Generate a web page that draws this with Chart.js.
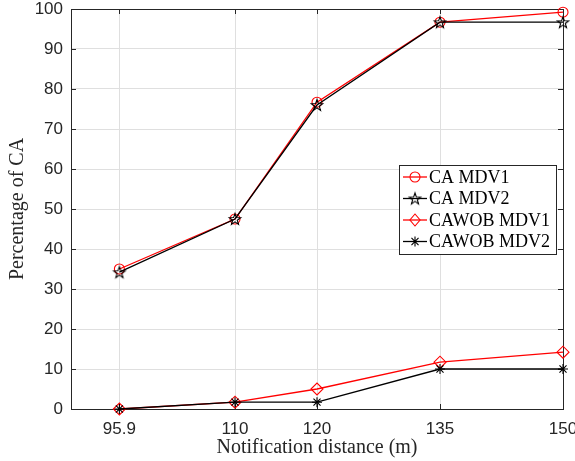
<!DOCTYPE html>
<html><head><meta charset="utf-8">
<script src="https://cdn.jsdelivr.net/npm/chart.js@4"></script>
<style>html,body{margin:0;padding:0;background:#fff}#wrap{width:575px;height:461px;position:relative}</style>
</head><body><div id="wrap"><canvas id="c" width="575" height="461"></canvas></div>
<script>
const distances = [95.9, 110, 120, 135, 150];
const caMdv1 = [35, 47.5, 76.7, 96.7, 99.2];
const caMdv2 = [34.2, 47.5, 76, 96.7, 96.7];
const cawobMdv1 = [0, 1.7, 5, 11.7, 14.2];
const cawobMdv2 = [0, 1.7, 1.7, 10, 10];
const yTickValues = [0, 10, 20, 30, 40, 50, 60, 70, 80, 90, 100];
const seriesNames = ['CA MDV1', 'CA MDV2', 'CAWOB MDV1', 'CAWOB MDV2'];
const xTitle = 'Notification distance (m)';
const yTitle = 'Percentage of CA';

const RED = '#ff0000', BLACK = '#000000', AXIS = '#262626';

function starPath(ctx, cx, cy, r) {
  const ri = r * 0.4;
  ctx.beginPath();
  for (let i = 0; i < 10; i++) {
    const rr = i % 2 === 0 ? r : ri;
    const a = -Math.PI / 2 + i * Math.PI / 5;
    const px = cx + rr * Math.cos(a), py = cy + rr * Math.sin(a);
    if (i === 0) ctx.moveTo(px, py); else ctx.lineTo(px, py);
  }
  ctx.closePath();
}
function makeStar(r) {
  const s = Math.ceil(2 * r + 4);
  const c = document.createElement('canvas');
  c.width = s; c.height = s;
  const ctx = c.getContext('2d');
  ctx.strokeStyle = BLACK; ctx.lineWidth = 1.1;
  starPath(ctx, s / 2, s / 2 + 0.5, r);
  ctx.stroke();
  return c;
}
const starImg = makeStar(6);

function pts(arr) { return distances.map((d, i) => ({ x: d, y: arr[i] })); }

const styles = [
  { color: RED, pointStyle: 'circle', radius: 5 },
  { color: BLACK, pointStyle: starImg, radius: 6 },
  { color: RED, pointStyle: 'rectRot', radius: 6 },
  { color: BLACK, pointStyle: 'star', radius: 5 }
];
const seriesData = [caMdv1, caMdv2, cawobMdv1, cawobMdv2];

const datasets = seriesData.map((arr, i) => ({
  label: seriesNames[i],
  data: pts(arr),
  borderColor: styles[i].color,
  backgroundColor: 'rgba(0,0,0,0)',
  pointBorderColor: styles[i].color,
  pointBackgroundColor: 'rgba(0,0,0,0)',
  pointStyle: styles[i].pointStyle,
  pointRadius: styles[i].radius,
  pointBorderWidth: 1.1,
  borderWidth: 1.3,
  tension: 0,
  clip: false
})).reverse();

function drawMarker(ctx, st, x, y) {
  ctx.save();
  ctx.strokeStyle = st.color; ctx.lineWidth = 1.1;
  if (st.pointStyle === 'circle') {
    ctx.beginPath(); ctx.arc(x, y, st.radius, 0, Math.PI * 2); ctx.stroke();
  } else if (st.pointStyle === 'rectRot') {
    const r = st.radius;
    ctx.beginPath(); ctx.moveTo(x, y - r); ctx.lineTo(x + r * 0.85, y); ctx.lineTo(x, y + r); ctx.lineTo(x - r * 0.85, y); ctx.closePath(); ctx.stroke();
  } else if (st.pointStyle === 'star') {
    const r = st.radius;
    ctx.beginPath();
    ctx.moveTo(x - r, y); ctx.lineTo(x + r, y);
    ctx.moveTo(x, y - r); ctx.lineTo(x, y + r);
    const d = r * 0.7071;
    ctx.moveTo(x - d, y - d); ctx.lineTo(x + d, y + d);
    ctx.moveTo(x - d, y + d); ctx.lineTo(x + d, y - d);
    ctx.stroke();
  } else {
    ctx.drawImage(st.pointStyle, x - st.pointStyle.width / 2, y - st.pointStyle.height / 2);
  }
  ctx.restore();
}

const boxPlugin = {
  id: 'matlabBox',
  beforeDatasetsDraw(chart) {
    const { ctx, chartArea: a, scales } = chart;
    ctx.save();
    ctx.strokeStyle = AXIS; ctx.lineWidth = 1;
    ctx.beginPath();
    const L = 5;
    scales.x.ticks.forEach(t => {
      const px = Math.round(scales.x.getPixelForValue(t.value)) + 0.5;
      ctx.moveTo(px, a.bottom); ctx.lineTo(px, a.bottom - L);
      ctx.moveTo(px, a.top); ctx.lineTo(px, a.top + L);
    });
    scales.y.ticks.forEach(t => {
      const py = Math.round(scales.y.getPixelForValue(t.value)) + 0.5;
      ctx.moveTo(a.left, py); ctx.lineTo(a.left + L, py);
      ctx.moveTo(a.right, py); ctx.lineTo(a.right - L, py);
    });
    ctx.stroke();
    ctx.strokeRect(Math.round(a.left) + 0.5, Math.round(a.top) + 0.5, Math.round(a.right - a.left), Math.round(a.bottom - a.top));
    ctx.restore();
  },
  afterDraw(chart) {
    const { ctx } = chart;
    const bx = 399, by = 165, bw = 157, bh = 89;
    ctx.save();
    ctx.fillStyle = '#ffffff';
    ctx.fillRect(bx, by, bw, bh);
    ctx.strokeStyle = AXIS; ctx.lineWidth = 1;
    ctx.strokeRect(bx + 0.5, by + 0.5, bw, bh);
    ctx.font = '18px "Liberation Serif", serif';
    ctx.textBaseline = 'middle';
    ctx.fillStyle = '#000';
    seriesNames.forEach((name, i) => {
      const y = by + 12 + i * 21.5;
      const st = styles[i];
      ctx.strokeStyle = st.color; ctx.lineWidth = 1.3;
      ctx.beginPath(); ctx.moveTo(403, y); ctx.lineTo(427, y); ctx.stroke();
      drawMarker(ctx, st, 415, y);
      ctx.fillStyle = '#000';
      ctx.fillText(name, 429, y + 1);
    });
    ctx.restore();
  }
};

new Chart(document.getElementById('c'), {
  type: 'line',
  data: { datasets },
  options: {
    responsive: false,
    animation: false,
    layout: { padding: { top: 9, right: 12, left: 0, bottom: 0 } },
    plugins: { legend: { display: false }, tooltip: { enabled: false } },
    scales: {
      x: {
        type: 'linear', min: 90, max: 150,
        afterBuildTicks(s) { s.ticks = distances.map(v => ({ value: v })); },
        afterFit(s) { s.height = 52; s.paddingLeft = 0; s.paddingRight = 0; },
        ticks: { color: AXIS, font: { family: '"Liberation Sans", Arial, sans-serif', size: 17 }, padding: 10, maxRotation: 0, autoSkip: false, callback: v => String(v) },
        grid: { color: '#dfdfdf', drawTicks: false, lineWidth: 1 },
        border: { display: true, color: AXIS },
        title: { display: true, text: xTitle, color: '#262626', font: { family: '"Liberation Serif", serif', size: 20 }, padding: { top: 0, bottom: 1 } }
      },
      y: {
        type: 'linear', min: 0, max: 100,
        afterBuildTicks(s) { s.ticks = yTickValues.map(v => ({ value: v })); },
        afterFit(s) { s.width = 71; s.paddingTop = 0; s.paddingBottom = 0; },
        ticks: { color: AXIS, font: { family: '"Liberation Sans", Arial, sans-serif', size: 17 }, padding: 8 },
        grid: { color: '#dfdfdf', drawTicks: false, lineWidth: 1 },
        border: { display: true, color: AXIS },
        title: { display: true, text: yTitle, color: '#262626', font: { family: '"Liberation Serif", serif', size: 20 }, padding: { top: 6, bottom: 0 } }
      }
    }
  },
  plugins: [boxPlugin]
});
</script></body></html>
